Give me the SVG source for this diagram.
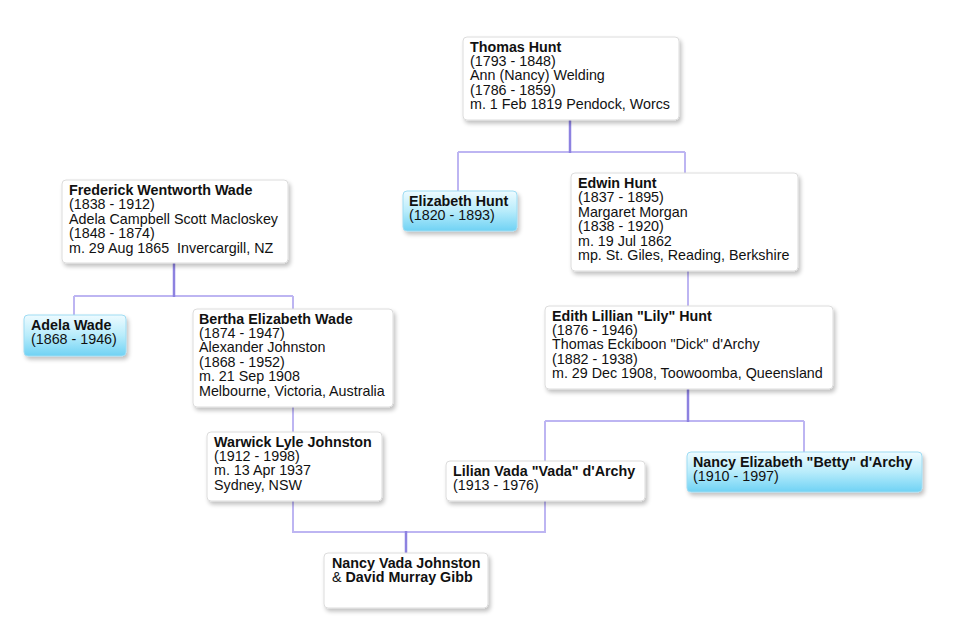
<svg xmlns="http://www.w3.org/2000/svg" width="964" height="632" viewBox="0 0 964 632">
<defs>
<linearGradient id="blue" x1="0" y1="0" x2="0" y2="1">
<stop offset="0" stop-color="#eefbff"/>
<stop offset="0.5" stop-color="#b8ecfb"/>
<stop offset="1" stop-color="#6fd2f4"/>
</linearGradient>
<filter id="sh" x="-10%" y="-10%" width="125%" height="140%">
<feGaussianBlur in="SourceAlpha" stdDeviation="2"/>
<feOffset dx="2" dy="3" result="b"/>
<feComponentTransfer><feFuncA type="linear" slope="0.25"/></feComponentTransfer>
<feMerge><feMergeNode/><feMergeNode in="SourceGraphic"/></feMerge>
</filter>
</defs>
<style>
.box{fill:#ffffff;stroke:#dcdcdc;stroke-width:1;filter:url(#sh)}
.hl{fill:url(#blue);stroke:#9fdcf3;stroke-width:1;filter:url(#sh)}
text{font-family:"Liberation Sans",Arial,Helvetica,sans-serif;font-size:14.3px;fill:#111}
.b{font-weight:bold}
.stem{stroke:#8d82e0;stroke-width:2.5;fill:none}
.ln{stroke:#bdb5f2;stroke-width:2;fill:none}
</style>
<rect width="964" height="632" fill="#ffffff"/>
<g id="connectors">
<path class="ln" d="M458 152H685M458 152V191M685 152V173"/>
<path class="stem" d="M570 120V153"/>
<path class="ln" d="M74 296H293M74 296V315M293 296V309"/>
<path class="stem" d="M174 263V297"/>
<path class="ln" d="M688 271V306"/>
<path class="ln" d="M293 407V432"/>
<path class="ln" d="M545 421H804M545 421V461M804 421V452"/>
<path class="stem" d="M688 389V422"/>
<path class="ln" d="M293 501V532H545V501"/>
<path class="stem" d="M406 531V553"/>
</g>
<g id="thomas">
<rect class="box" x="463" y="37" width="216" height="83" rx="4"/>
<text x="470" y="51.5"><tspan class="b">Thomas Hunt</tspan><tspan x="470" dy="14.4">(1793 - 1848)</tspan><tspan x="470" dy="14.4">Ann (Nancy) Welding</tspan><tspan x="470" dy="14.4">(1786 - 1859)</tspan><tspan x="470" dy="14.4">m. 1 Feb 1819 Pendock, Worcs</tspan></text>
</g>
<g id="elizabeth">
<rect class="hl" x="403" y="191" width="114" height="40" rx="4"/>
<text x="409" y="206"><tspan class="b">Elizabeth Hunt</tspan><tspan x="409" dy="14.4">(1820 - 1893)</tspan></text>
</g>
<g id="edwin">
<rect class="box" x="571" y="173" width="227" height="98" rx="4"/>
<text x="578" y="188"><tspan class="b">Edwin Hunt</tspan><tspan x="578" dy="14.4">(1837 - 1895)</tspan><tspan x="578" dy="14.4">Margaret Morgan</tspan><tspan x="578" dy="14.4">(1838 - 1920)</tspan><tspan x="578" dy="14.4">m. 19 Jul 1862</tspan><tspan x="578" dy="14.4">mp. St. Giles, Reading, Berkshire</tspan></text>
</g>
<g id="frederick">
<rect class="box" x="62" y="180" width="226" height="83" rx="4"/>
<text x="69" y="195"><tspan class="b">Frederick Wentworth Wade</tspan><tspan x="69" dy="14.4">(1838 - 1912)</tspan><tspan x="69" dy="14.4">Adela Campbell Scott Macloskey</tspan><tspan x="69" dy="14.4">(1848 - 1874)</tspan><tspan x="69" dy="14.4" xml:space="preserve">m. 29 Aug 1865  Invercargill, NZ</tspan></text>
</g>
<g id="adela">
<rect class="hl" x="24" y="315" width="102" height="41" rx="4"/>
<text x="31" y="330"><tspan class="b">Adela Wade</tspan><tspan x="31" dy="14.4">(1868 - 1946)</tspan></text>
</g>
<g id="bertha">
<rect class="box" x="193" y="309" width="200" height="98" rx="4"/>
<text x="199" y="323.5"><tspan class="b">Bertha Elizabeth Wade</tspan><tspan x="199" dy="14.4">(1874 - 1947)</tspan><tspan x="199" dy="14.4">Alexander Johnston</tspan><tspan x="199" dy="14.4">(1868 - 1952)</tspan><tspan x="199" dy="14.4">m. 21 Sep 1908</tspan><tspan x="199" dy="14.4">Melbourne, Victoria, Australia</tspan></text>
</g>
<g id="warwick">
<rect class="box" x="207" y="432" width="175" height="69" rx="4"/>
<text x="214" y="446.5"><tspan class="b">Warwick Lyle Johnston</tspan><tspan x="214" dy="14.4">(1912 - 1998)</tspan><tspan x="214" dy="14.4">m. 13 Apr 1937</tspan><tspan x="214" dy="14.4">Sydney, NSW</tspan></text>
</g>
<g id="edith">
<rect class="box" x="545" y="306" width="288" height="83" rx="4"/>
<text x="552" y="320.5"><tspan class="b">Edith Lillian "Lily" Hunt</tspan><tspan x="552" dy="14.4">(1876 - 1946)</tspan><tspan x="552" dy="14.4">Thomas Eckiboon "Dick" d'Archy</tspan><tspan x="552" dy="14.4">(1882 - 1938)</tspan><tspan x="552" dy="14.4">m. 29 Dec 1908, Toowoomba, Queensland</tspan></text>
</g>
<g id="lilian">
<rect class="box" x="446" y="461" width="199" height="40" rx="4"/>
<text x="453" y="476"><tspan class="b">Lilian Vada "Vada" d'Archy</tspan><tspan x="453" dy="14.4">(1913 - 1976)</tspan></text>
</g>
<g id="betty">
<rect class="hl" x="687" y="452" width="235" height="40" rx="4"/>
<text x="693" y="467"><tspan class="b">Nancy Elizabeth "Betty" d'Archy</tspan><tspan x="693" dy="14.4">(1910 - 1997)</tspan></text>
</g>
<g id="nancy">
<rect class="box" x="324" y="553" width="164" height="55" rx="4"/>
<text x="332" y="568"><tspan class="b">Nancy Vada Johnston</tspan><tspan x="332" dy="14.4">&amp; </tspan><tspan class="b">David Murray Gibb</tspan></text>
</g>
</svg>
